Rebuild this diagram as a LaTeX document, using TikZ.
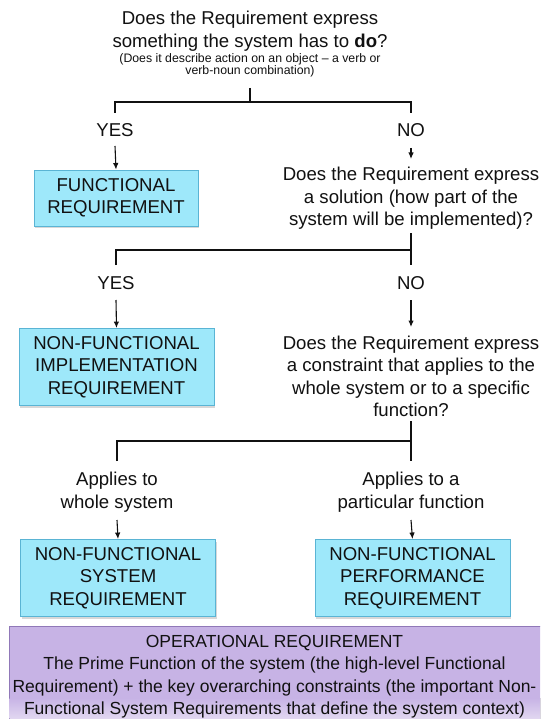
\documentclass[tikz,border=0pt]{standalone}
\usepackage{fontspec}
\setmainfont{Liberation Sans}
\usetikzlibrary{arrows.meta,shadows}
\definecolor{cyanfill}{HTML}{9EE8FA}
\definecolor{cyanline}{HTML}{5AB4D4}
\definecolor{purpfill}{HTML}{C7B3E5}
\definecolor{purpline}{HTML}{9078B8}
\definecolor{purplight}{HTML}{E2D8F1}
\definecolor{ink}{HTML}{111111}
\begin{document}
\begin{tikzpicture}[x=1pt,y=-1pt,
  txt/.style={align=center, inner sep=0pt, text=ink, font=\fontsize{18.6}{22.5}\selectfont},
  small/.style={align=center, inner sep=0pt, text=ink, font=\fontsize{12.3}{12}\selectfont},
  optxt/.style={txt, font=\fontsize{17.5}{22.5}\selectfont},
  reqbox/.style={txt, draw=cyanline, fill=cyanfill, line width=0.9pt, minimum height=77pt, minimum width=195pt,
    drop shadow={shadow xshift=1pt, shadow yshift=-2pt, opacity=0.3, fill=gray}},
  link/.style={draw=ink, line width=1.1pt},
  arr/.style={link, -{Latex[length=6.5pt,width=5.5pt]}},
]
\clip (0,0) rectangle (540,719);
\fill[white] (0,0) rectangle (540,719);

% level 1
\node[txt] (q1) at (250,31) {Does the Requirement express\\something the system has to \textbf{do}?};
\node[small] (q1s) at (250,65) {(Does it describe action on an object -- a verb or\\verb-noun combination)};
\coordinate (r1) at (250,88);
\coordinate (j1) at (250,102);
\coordinate (jl1) at (115,102);
\coordinate (jr1) at (411,102);
\coordinate (el1) at (115,113);
\coordinate (er1) at (411,113);
\draw[link] (r1) -- (j1);
\draw[link] (el1) -- (jl1) -- (jr1) -- (er1);
\node[txt] (yes1) at (115,130) {YES};
\node[txt] (no1) at (411,130) {NO};
\node[reqbox, minimum width=164pt, minimum height=56pt] (func) at (116,198) {FUNCTIONAL\\REQUIREMENT};
\draw[arr] ([yshift=-16pt]yes1.center) -- (func.north);
\draw[arr] ([yshift=-18pt]no1.center) -- ([yshift=-29pt]no1.center);

% level 2
\node[txt] (q2) at (411,198.5) {Does the Requirement express\\a solution (how part of the\\system will be implemented)?};
\coordinate (r2) at (411,233);
\coordinate (j2) at (411,250);
\coordinate (jl2) at (116,250);
\coordinate (el2) at (116,265);
\coordinate (er2) at (411,265);
\draw[link] (r2) -- (er2);
\draw[link] (el2) -- (jl2) -- (j2);
\node[txt] (yes2) at (116,283) {YES};
\node[txt] (no2) at (411,283) {NO};
\node[reqbox] (nfi) at (116.5,367) {NON-FUNCTIONAL\\IMPLEMENTATION\\REQUIREMENT};
\draw[arr] ([yshift=-17pt]yes2.center) -- (nfi.north);
\draw[arr] ([yshift=-17pt]no2.center) -- ([yshift=-44pt]no2.center);

% level 3
\node[txt] (q3) at (411,376.5) {Does the Requirement express\\a constraint that applies to the\\whole system or to a specific\\function?};
\coordinate (r3) at (411,421);
\coordinate (j3) at (411,441);
\coordinate (jl3) at (117,441);
\coordinate (el3) at (117,461);
\coordinate (er3) at (411,461);
\draw[link] (r3) -- (er3);
\draw[link] (el3) -- (jl3) -- (j3);
\node[txt] (ap1) at (117,492) {Applies to\\whole system};
\node[txt] (ap2) at (411,492) {Applies to a\\particular function};
\node[reqbox] (nfs) at (118,578) {NON-FUNCTIONAL\\SYSTEM\\REQUIREMENT};
\node[reqbox] (nfp) at (412.5,578) {NON-FUNCTIONAL\\PERFORMANCE\\REQUIREMENT};
\draw[arr] ([yshift=-28pt]ap1.center) -- (nfs.north);
\draw[arr] ([yshift=-28pt]ap2.center) -- (nfp.north);

% operational requirement
\path[draw=purpline, fill=purpfill, line width=1pt] (9,626) rectangle (546,730);
\fill[top color=purpfill, bottom color=purplight] (9.5,698) rectangle (545.5,719);
\node[optxt] (op) at (274.5,676.5) {OPERATIONAL REQUIREMENT\\The Prime Function of the system (the high-level Functional\\Requirement) + the key overarching constraints (the important Non-\\Functional System Requirements that define the system context)};
\end{tikzpicture}
\end{document}
